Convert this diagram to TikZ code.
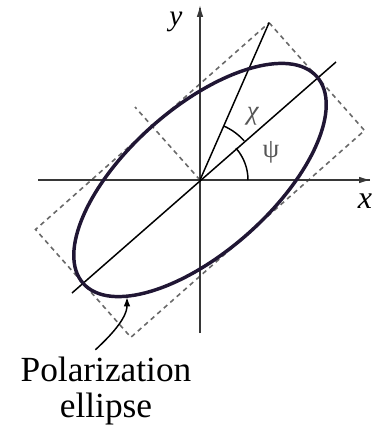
\documentclass[tikz,border=0pt]{standalone}
\usepackage{fontspec}
\setmainfont{Liberation Serif}
\usetikzlibrary{arrows.meta}
\tikzset{every picture/.style={line width=0.75pt}}

\begin{document}
\begin{tikzpicture}[x=0.75pt,y=0.75pt,yscale=-1,xscale=1]
\useasboundingbox (0,0) rectangle (372,431);

%Shape: Dashed box [id:box]
\draw  [color={rgb, 255:red, 105; green, 105; blue, 105 }  ,draw opacity=1 ][dash pattern={on 3.5pt off 3pt}][line width=1.2]  (269.1,22.7) -- (364.5,130.5) -- (130.9,337.3) -- (35.5,229.5) -- cycle ;
%Straight Lines [id:minor]
\draw  [color={rgb, 255:red, 105; green, 105; blue, 105 }  ,draw opacity=1 ][dash pattern={on 3.5pt off 3pt}][line width=1.2]  (200,180) -- (135,107) ;
%Shape: Axis 2D [id:xaxis]
\draw [color={rgb, 255:red, 55; green, 55; blue, 55 }  ,draw opacity=1 ][line width=1.1]  (38,180) -- (370,180) ;
\draw [color={rgb, 255:red, 55; green, 55; blue, 55 }  ,draw opacity=1 ][line width=1.1] [-{Latex[length=9pt,width=5pt]}]  (360,180) -- (371,180) ;
%Shape: Axis 2D [id:yaxis]
\draw [color={rgb, 255:red, 55; green, 55; blue, 55 }  ,draw opacity=1 ][line width=1.1]  (200,333) -- (200,8) ;
\draw [color={rgb, 255:red, 55; green, 55; blue, 55 }  ,draw opacity=1 ][line width=1.1] [-{Latex[length=9pt,width=5pt]}]  (200,18) -- (200,5) ;
%Straight Lines [id:major]
\draw [line width=1.1]  (72,293) -- (336,62) ;
%Straight Lines [id:chiline]
\draw [line width=1.1]  (200,180) -- (269.1,22.7) ;
%Shape: Arc [id:psiarc]
\draw [line width=1.1]  (248,180) arc (0:-41.5:48) ;
%Shape: Arc [id:chiarc]
\draw [line width=1.1]  (200,180) ++(-41.5:59) arc (-41.5:-66.3:59) ;
%Shape: Ellipse [id:pellipse]
\draw  [color={rgb, 255:red, 32; green, 22; blue, 52 }  ,draw opacity=1 ][line width=2.6] [rotate around={-41.5:(200,180)}]  (200,180) ellipse (156 and 72) ;
\coordinate (tip) at (127,297) ;

% Text Node
\draw (176,22) node (ylabel) [font=\fontsize{22}{22}\selectfont] {\textit{y}};
% Text Node
\draw (365,201) node (xlabel) [font=\fontsize{24}{24}\selectfont] {\textit{x}};
% Text Node
\draw (253,116) node (chilabel) [color={rgb, 255:red, 85; green, 85; blue, 85 }, font=\fontsize{20}{20}\selectfont] {\textit{χ}};
% Text Node
\draw (271,152) node (psilabel) [color={rgb, 255:red, 85; green, 85; blue, 85 }, font=\fontsize{20}{20}\selectfont] {ψ};
% Text Node
\draw (106,391) node (lbl) [align=center, inner sep=5pt, font=\fontsize{26.5}{27}\selectfont] {Polarization\\ellipse};

%Curve Lines [id:pointer]
\draw [line width=1.1] [-{Latex[length=7pt,width=5pt]}]  ([xshift=-8pt]lbl.north) .. controls +(13,-12) and +(0,22) .. (tip) ;

\end{tikzpicture}
\end{document}
